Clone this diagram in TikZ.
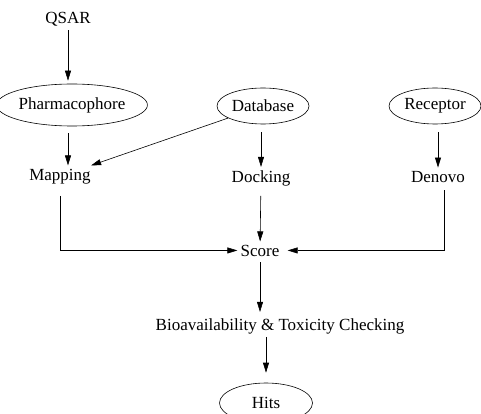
\documentclass[tikz,border=0pt]{standalone}
\usepackage{fontspec}
\setmainfont{Liberation Serif}
\usetikzlibrary{arrows.meta,positioning,shapes.geometric}

\begin{document}
\begin{tikzpicture}[x=1pt, y=-1pt, line width=.6pt, every node/.style={font=\fontsize{17}{20}\selectfont, inner sep=3pt}, oval/.style={draw, ellipse, inner sep=0pt, minimum width=92pt, minimum height=36pt}, txt/.style={anchor=base}, >={Triangle[length=10pt, width=6pt]}]
\useasboundingbox (0,0) rectangle (481,414);
\node[txt] (qsar) at (68,24) {QSAR};
\node[oval, minimum width=121pt, minimum height=42pt] (pharma) at (72,105) {Pharmacophore};
\node[oval] (database) at (263,106) {Database};
\node[oval] (receptor) at (435,106) {Receptor};
\node[txt] (mapping) at (60,180) {Mapping};
\node[txt] (docking) at (261,182) {Docking};
\node[txt] (denovo) at (438,182) {Denovo};
\node[txt] (score) at (260,256) {Score};
\node[txt] (bio) at (280,330) {Bioavailability \& Toxicity Checking};
\node[oval, minimum width=93pt, minimum height=40pt] (hits) at (266,403) {Hits};
\draw[->, shorten >=3pt] (qsar) -- (qsar |- pharma.north);
\draw[->, shorten <=7pt] (pharma.south -| qsar) -- (mapping.north -| qsar);
\draw[->] (database) -- (mapping);
\draw[->, shorten <=8pt] (docking |- database.south) -- (docking);
\draw[->, shorten <=8pt] (denovo |- receptor.south) -- (denovo);
\draw[->, shorten <=9pt] (mapping) |- (score);
\draw[->, shorten <=7pt] (docking) -- (score);
\draw[->, shorten <=5pt, shorten >=5pt] ([xshift=6pt]denovo.south) |- (score);
\draw[->, shorten <=3pt, shorten >=3pt] (score.south) -- (score.south |- bio.north);
\draw[->, shorten >=10pt] (hits.north |- bio.south) -- (hits.north);
\end{tikzpicture}
\end{document}
